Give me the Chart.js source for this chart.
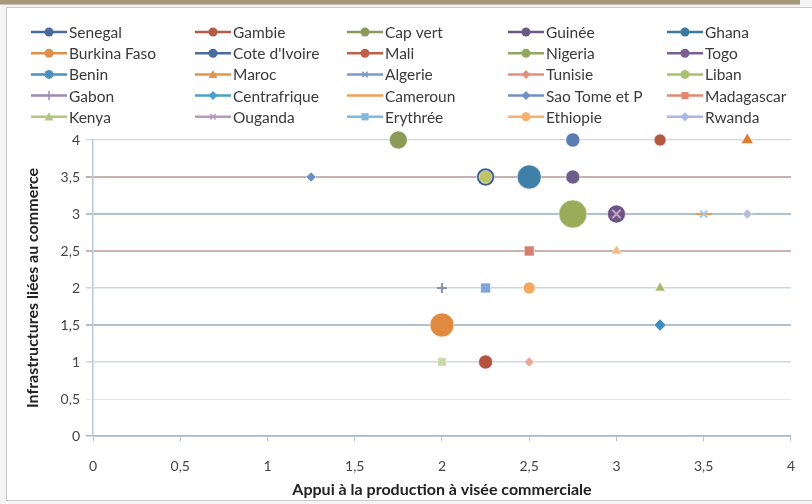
<!DOCTYPE html>
<html>
<head>
<meta charset="utf-8">
<script src="https://cdn.jsdelivr.net/npm/chart.js@4/dist/chart.umd.min.js"></script>
<style>
  html, body { margin: 0; padding: 0; background: #fff; }
  #wrap { position: relative; width: 812px; height: 504px; overflow: hidden; background: #f4f4f4; }
  #band { position: absolute; left: 0; top: 0; width: 800px; height: 4px; background: #a8987a; border-bottom: 1px solid #c8c2b8; }
  #frame { position: absolute; left: 6px; top: 7px; width: 812px; height: 492px; border: 1px solid #c9c9c9; background: #fff; }
  canvas { position: absolute; left: 0; top: 0; }
</style>
</head>
<body>
<div id="wrap">
  <div id="band"></div>
  <div id="frame"></div>
  <canvas id="c" width="812" height="504"></canvas>
</div>
<script>
// Countries, in legend order
const countries = [
  'Senegal', 'Gambie', 'Cap vert', 'Guinée', 'Ghana',
  'Burkina Faso', "Cote d'Ivoire", 'Mali', 'Nigeria', 'Togo',
  'Benin', 'Maroc', 'Algerie', 'Tunisie', 'Liban',
  'Gabon', 'Centrafrique', 'Cameroun', 'Sao Tome et P', 'Madagascar',
  'Kenya', 'Ouganda', 'Erythrée', 'Ethiopie', 'Rwanda'
];

// Appui à la production à visée commerciale (x), one list per country
const appui = [
  [2.75], [2.25], [1.75], [2.75], [2.5],
  [2], [2.25], [3.25], [2.75], [3],
  [2.75], [3.75, 3], [3.5], [2.5], [2.25, 2],
  [2], [3.25], [3.5], [1.25], [2.5],
  [3.25], [3], [2.25], [2.5], [3.75]
];

// Infrastructures liées au commerce (y), one list per country
const infra = [
  [4], [1], [4], [3.5], [3.5],
  [1.5], [3.5], [4], [3], [3],
  [4], [4, 2.5], [3], [1], [3.5, 1],
  [2], [1.5], [3], [3.5], [2.5],
  [2], [3], [2], [2], [3]
];

// Axis ticks
const tickValues = [0, 0.5, 1, 1.5, 2, 2.5, 3, 3.5, 4];

// Styling per country: line colour, marker shape(s), marker fill(s), radius(es)
const lineColors = [
  '#4a6a9c', '#b85a48', '#8a9a5c', '#6a5a88', '#3a7a9c',
  '#e0904a', '#4a6aa0', '#c06048', '#90a860', '#7a6090',
  '#4a90c0', '#e0944c', '#7a98cc', '#e49080', '#a8c070',
  '#9a88b8', '#4aa0c8', '#f0a050', '#7090c8', '#e08870',
  '#b0c880', '#b898c0', '#80b8e0', '#f8b070', '#a8b8e0'
];
const markerShapes = [
  ['circle'], ['circle'], ['circle'], ['circle'], ['circle'],
  ['circle'], ['circle'], ['circle'], ['circle'], ['circle'],
  ['circle'], ['triangle', 'triangle'], ['crossRot'], ['rectRot'], ['circle', 'rect'],
  ['cross'], ['rectRot'], ['line'], ['rectRot'], ['rect'],
  ['triangle'], ['crossRot'], ['rect'], ['circle'], ['rectRot']
];
const markerFills = [
  ['#5a7cb2'], ['#b45440'], ['#8e9a58'], ['#6e5c8a'], ['#3f7fa8'],
  ['#e08a40'], ['#3a5a8a'], ['#b25a42'], ['#9aab5a'], ['#6a5585'],
  ['#5580b4'], ['#e07c34', '#f4b888'], ['#a8c6e2'], ['#e8a898'], ['#c0c468', '#c8d8a8'],
  ['#8890b8'], ['#3f8ac0'], ['#f09a48'], ['#6a8cc8'], ['#d48070'],
  ['#a8b868'], ['#c8a0c8'], ['#7ea6d8'], ['#f4a860'], ['#b8bcd8']
];
const markerSizes = [
  [7], [7], [9], [7], [12],
  [12], [9], [6], [14], [9],
  [7], [7, 6], [5], [5], [6.5, 6],
  [5], [6], [8], [5], [7],
  [6], [6], [7], [6], [5]
];
// Draw order: smaller marks sitting on larger ones come last (lower value = on top)
const drawOrder = [
  2, 2, 2, 2, 2,
  2, 3, 2, 2, 3,
  2, 2, 0, 2, 0,
  2, 2, 1, 2, 2,
  2, 0, 2, 2, 2
];

const isStroke = s => s === 'cross' || s === 'crossRot' || s === 'line';

const datasets = countries.map((name, i) => ({
  label: name,
  data: appui[i].map((x, j) => ({ x: x, y: infra[i][j] })),
  showLine: false,
  clip: false,
  order: drawOrder[i],
  pointStyle: markerShapes[i],
  backgroundColor: markerFills[i],
  borderColor: markerShapes[i].map((s, j) => isStroke(s) ? markerFills[i][j] : 'rgba(255,255,255,0.55)'),
  pointBorderWidth: markerShapes[i].map(s => isStroke(s) ? 2 : 1),
  pointRadius: markerSizes[i],
  pointHoverRadius: markerSizes[i]
}));

// Horizontal reference lines: colour and weight by level
const levelColor = {
  '4': '#cbd7e3', '3.5': '#c4b2b0', '3': '#afc1d1', '2.5': '#cbb4b0',
  '2': '#c8d6e2', '1.5': '#afc1d1', '1': '#ccd9e4', '0.5': '#e0e7ee', '0': '#a4b8cc'
};
const levelWidth = {
  '4': 1.2, '3.5': 2, '3': 2, '2.5': 2, '2': 1.5, '1.5': 2, '1': 1.5, '0.5': 1, '0': 1.5
};

function drawMarker(ctx, shape, x, y, r) {
  ctx.beginPath();
  if (shape === 'circle') {
    ctx.arc(x, y, r, 0, Math.PI * 2);
    ctx.fill();
  } else if (shape === 'triangle') {
    ctx.moveTo(x, y - r); ctx.lineTo(x + r, y + r * 0.8); ctx.lineTo(x - r, y + r * 0.8); ctx.closePath();
    ctx.fill();
  } else if (shape === 'rect') {
    ctx.rect(x - r * 0.8, y - r * 0.8, r * 1.6, r * 1.6);
    ctx.fill();
  } else if (shape === 'rectRot') {
    ctx.moveTo(x, y - r); ctx.lineTo(x + r, y); ctx.lineTo(x, y + r); ctx.lineTo(x - r, y); ctx.closePath();
    ctx.fill();
  } else if (shape === 'cross') {
    ctx.moveTo(x, y - r); ctx.lineTo(x, y + r);
    ctx.stroke();
  } else if (shape === 'crossRot') {
    ctx.moveTo(x - r * 0.6, y - r * 0.6); ctx.lineTo(x + r * 0.6, y + r * 0.6);
    ctx.moveTo(x + r * 0.6, y - r * 0.6); ctx.lineTo(x - r * 0.6, y + r * 0.6);
    ctx.stroke();
  }
}

// Five-column legend drawn above the plot area
const gridLegend = {
  id: 'gridLegend',
  afterDraw(chart) {
    const ctx = chart.ctx;
    const colX = [31, 195, 347, 508, 667];
    const rowY0 = 32, rowH = 21.2;
    ctx.save();
    ctx.font = '15.5px Lato, "Open Sans", sans-serif';
    ctx.textBaseline = 'middle';
    ctx.textAlign = 'left';
    chart.data.datasets.forEach((ds, i) => {
      const x0 = colX[i % 5];
      const y = rowY0 + Math.floor(i / 5) * rowH;
      ctx.strokeStyle = lineColors[i];
      ctx.lineWidth = 2.5;
      ctx.beginPath();
      ctx.moveTo(x0, y); ctx.lineTo(x0 + 36, y);
      ctx.stroke();
      ctx.fillStyle = lineColors[i];
      ctx.strokeStyle = lineColors[i];
      ctx.lineWidth = 1.5;
      drawMarker(ctx, markerShapes[i][0], x0 + 18, y, 4.5);
      ctx.fillStyle = '#3a3a3a';
      ctx.fillText(ds.label, x0 + 38, y + 1);
    });
    ctx.restore();
  }
};

const fmt = v => String(v).replace('.', ',');

new Chart(document.getElementById('c'), {
  type: 'scatter',
  data: { datasets: datasets },
  plugins: [gridLegend],
  options: {
    responsive: false,
    animation: false,
    devicePixelRatio: 1,
    layout: { padding: { top: 140, left: 12, right: 17, bottom: 0 } },
    plugins: { legend: { display: false }, tooltip: { enabled: false } },
    scales: {
      x: {
        type: 'linear', min: 0, max: 4,
        afterBuildTicks: s => { s.ticks = tickValues.map(v => ({ value: v })); },
        afterFit: s => { s.height = 68; },
        ticks: { callback: fmt, color: '#444', padding: 17, maxRotation: 0,
                 font: { family: 'Lato, "Open Sans", sans-serif', size: 14 } },
        grid: { drawOnChartArea: false, drawTicks: true, tickLength: 5, color: '#b4c4d4' },
        border: { display: true, color: '#a4b8cc', width: 1.5 },
        title: { display: true, text: 'Appui à la production à visée commerciale', color: '#222',
                 padding: { top: 0, bottom: 5 },
                 font: { family: 'Lato, "Open Sans", sans-serif', size: 16, weight: 'bold' } }
      },
      y: {
        type: 'linear', min: 0, max: 4,
        afterBuildTicks: s => { s.ticks = tickValues.map(v => ({ value: v })); },
        afterFit: s => { s.width = 81; },
        ticks: { callback: fmt, color: '#444', padding: 6,
                 font: { family: 'Lato, "Open Sans", sans-serif', size: 14 } },
        grid: {
          drawTicks: true, tickLength: 7,
          color: c => levelColor[String(c.tick && c.tick.value)] || '#dde5ed',
          lineWidth: c => levelWidth[String(c.tick && c.tick.value)] || 1
        },
        border: { display: true, color: '#b8c8d8', width: 1.5 },
        title: { display: true, text: 'Infrastructures liées au commerce', color: '#222',
                 padding: { top: 11, bottom: 0 },
                 font: { family: 'Lato, "Open Sans", sans-serif', size: 16, weight: 'bold' } }
      }
    }
  }
});
</script>
</body>
</html>
